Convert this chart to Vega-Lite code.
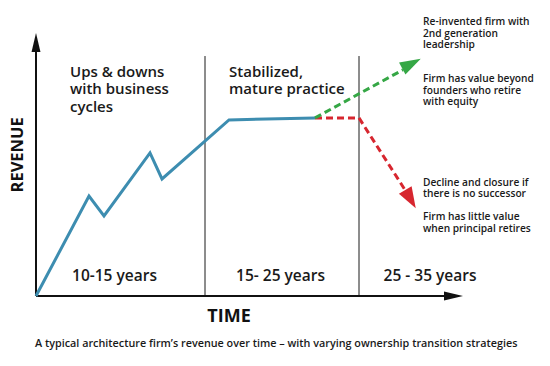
{
  "$schema": "https://vega.github.io/schema/vega-lite/v6.json",
  "width": 500,
  "height": 280,
  "autosize": {"type": "none"},
  "padding": {"left": 36, "top": 16, "right": 14, "bottom": 70},
  "background": "white",
  "config": {"view": {"stroke": null}, "font": "Open Sans"},
  "datasets": {
    "revenue": [
      {"t": 0, "r": 0, "o": 1},
      {"t": 10.6, "r": 35.7, "o": 2},
      {"t": 13.6, "r": 28.6, "o": 3},
      {"t": 22.8, "r": 51.1, "o": 4},
      {"t": 25.2, "r": 41.8, "o": 5},
      {"t": 38.6, "r": 62.9, "o": 6},
      {"t": 55.8, "r": 63.6, "o": 7}
    ],
    "decline": [
      {"t": 55.8, "r": 63.6, "o": 1},
      {"t": 64.6, "r": 63.6, "o": 2},
      {"t": 73.8, "r": 37.9, "o": 3}
    ],
    "growth": [
      {"t": 55.8, "r": 63.6, "o": 1},
      {"t": 73.4, "r": 80.8, "o": 2}
    ],
    "dividers": [
      {"t": 33.8, "r": 0, "r2": 85.7},
      {"t": 64.6, "r": 0, "r2": 85.7}
    ],
    "axes": [
      {"t": 0, "t2": 0, "r": 0, "r2": 88},
      {"t": 0, "t2": 82, "r": 0, "r2": 0}
    ],
    "phases": [
      {"t": 6.8, "r": 80.1, "label": "Ups & downs\nwith business\ncycles"},
      {"t": 38.6, "r": 80.1, "label": "Stabilized,\nmature practice"}
    ],
    "periods": [
      {"t": 15.7, "r": 7.1, "label": "10-15 years"},
      {"t": 48.9, "r": 7.1, "label": "15- 25 years"},
      {"t": 78.8, "r": 7.1, "label": "25 - 35 years"}
    ],
    "notes": [
      {"t": 77.4, "r": 97.7, "label": "Re-invented firm with\n2nd generation\nleadership"},
      {"t": 77.4, "r": 77.5, "label": "Firm has value beyond\nfounders who retire\nwith equity"},
      {"t": 77.4, "r": 40.4, "label": "Decline and closure if\nthere is no successor"},
      {"t": 77.4, "r": 28.2, "label": "Firm has little value\nwhen principal retires"}
    ]
  },
  "encoding": {
    "x": {"field": "t", "type": "quantitative", "scale": {"domain": [0, 100], "nice": false, "zero": false}, "axis": null},
    "y": {"field": "r", "type": "quantitative", "scale": {"domain": [0, 100], "nice": false, "zero": false}, "axis": null}
  },
  "layer": [
    {
      "data": {"name": "dividers"},
      "mark": {"type": "rule", "color": "#1a1a1a", "strokeWidth": 1, "clip": false},
      "encoding": {"y2": {"field": "r2"}}
    },
    {
      "data": {"name": "axes"},
      "mark": {"type": "rule", "color": "#111111", "strokeWidth": 2, "clip": false},
      "encoding": {"x2": {"field": "t2"}, "y2": {"field": "r2"}}
    },
    {
      "data": {"values": [{"t": 0, "r": 90.5}]},
      "mark": {"type": "point", "shape": "M0,-1L0.47,1L-0.47,1Z", "filled": true, "opacity": 1, "color": "#111111", "size": 361, "angle": 0, "clip": false}
    },
    {
      "data": {"values": [{"t": 83.5, "r": 0}]},
      "mark": {"type": "point", "shape": "M0,-1L0.47,1L-0.47,1Z", "filled": true, "opacity": 1, "color": "#111111", "size": 361, "angle": 90, "clip": false}
    },
    {
      "data": {"name": "revenue"},
      "mark": {"type": "line", "color": "#3d8db0", "strokeWidth": 3, "clip": false},
      "encoding": {"order": {"field": "o", "type": "quantitative"}}
    },
    {
      "data": {"name": "decline"},
      "mark": {"type": "line", "color": "#d7262f", "strokeWidth": 3, "strokeDash": [7, 4], "clip": false},
      "encoding": {"order": {"field": "o", "type": "quantitative"}}
    },
    {
      "data": {"name": "growth"},
      "mark": {"type": "line", "color": "#35a745", "strokeWidth": 3, "strokeDash": [7, 4], "clip": false},
      "encoding": {"order": {"field": "o", "type": "quantitative"}}
    },
    {
      "data": {"values": [{"t": 74.9, "r": 34.6}]},
      "mark": {"type": "point", "shape": "M0,-1L0.7,1L-0.7,1Z", "filled": true, "opacity": 1, "color": "#d7262f", "size": 440, "angle": 150, "clip": false}
    },
    {
      "data": {"values": [{"t": 75.1, "r": 83.0}]},
      "mark": {"type": "point", "shape": "M0,-1L0.65,1L-0.65,1Z", "filled": true, "opacity": 1, "color": "#35a745", "size": 440, "angle": 62, "clip": false}
    },
    {
      "data": {"name": "phases"},
      "mark": {"type": "text", "align": "left", "baseline": "middle", "lineBreak": "\n", "lineHeight": 17.6, "fontSize": 15, "fontWeight": 600, "color": "#1a1a1a", "clip": false},
      "encoding": {"text": {"field": "label"}}
    },
    {
      "data": {"name": "periods"},
      "mark": {"type": "text", "align": "center", "baseline": "middle", "fontSize": 15.5, "fontWeight": 600, "color": "#1a1a1a", "clip": false},
      "encoding": {"text": {"field": "label"}}
    },
    {
      "data": {"name": "notes"},
      "mark": {"type": "text", "align": "left", "baseline": "middle", "lineBreak": "\n", "lineHeight": 11.5, "fontSize": 10.2, "fontWeight": 600, "color": "#1a1a1a", "clip": false},
      "encoding": {"text": {"field": "label"}}
    },
    {
      "data": {"values": [{"t": 38.6, "r": -7.5, "label": "TIME"}]},
      "mark": {"type": "text", "align": "center", "baseline": "middle", "fontSize": 18, "fontWeight": "bold", "color": "#111111", "clip": false},
      "encoding": {"text": {"field": "label"}}
    },
    {
      "data": {"values": [{"t": -3.6, "r": 50.4, "label": "REVENUE"}]},
      "mark": {"type": "text", "align": "center", "baseline": "middle", "fontSize": 16.5, "fontWeight": "bold", "angle": 270, "color": "#111111", "clip": false},
      "encoding": {"text": {"field": "label"}}
    },
    {
      "data": {"values": [{"t": -0.2, "r": -17.1, "label": "A typical architecture firm’s revenue over time – with varying ownership transition strategies"}]},
      "mark": {"type": "text", "align": "left", "baseline": "middle", "fontSize": 10.8, "fontWeight": 600, "color": "#1a1a1a", "clip": false},
      "encoding": {"text": {"field": "label"}}
    }
  ]
}
